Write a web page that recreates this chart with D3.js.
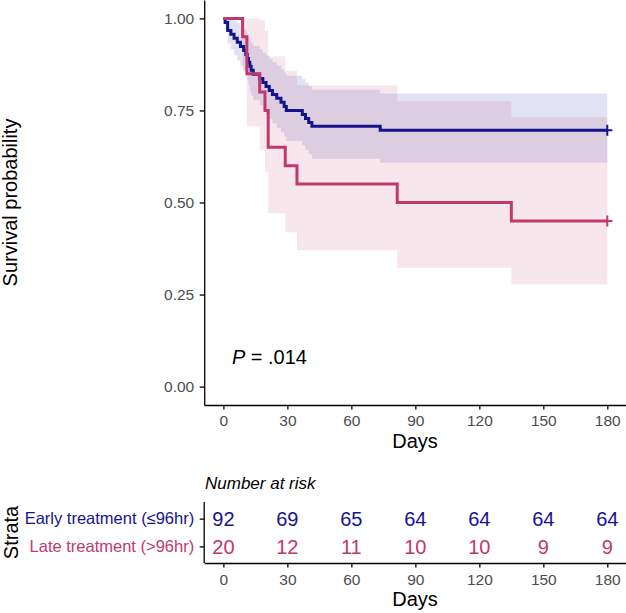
<!DOCTYPE html>
<html>
<head>
<meta charset="utf-8">
<script src="https://cdn.jsdelivr.net/npm/d3@7/dist/d3.min.js"></script>
<style>
  html, body { margin: 0; padding: 0; background: #fff; }
  svg { display: block; font-family: "Liberation Sans", Arial, Helvetica, sans-serif; }
</style>
</head>
<body>
<svg id="chart" width="626" height="613"></svg>
<script>
// ---------------- data ----------------
const strata = ["Early treatment (\u226496hr)", "Late treatment (>96hr)"];
const strataColors = ["#14148c", "#c0396c"];

const earlyTimes = [0, 0.8, 2, 3.5, 5, 6.5, 8, 9.5, 10.5, 11.2, 11.8, 12.4, 13, 14, 17, 18.5, 20, 21.5, 23, 25, 27, 28.5, 29.5, 37, 38.5, 40, 41.5, 73.5, 180];
const earlySurv  = [1, 0.989, 0.967, 0.957, 0.946, 0.935, 0.924, 0.913, 0.902, 0.891, 0.880, 0.870, 0.859, 0.848, 0.837, 0.826, 0.815, 0.804, 0.793, 0.783, 0.772, 0.761, 0.750, 0.739, 0.728, 0.717, 0.707, 0.696, 0.696];
const earlyLower = [1, 0.968, 0.932, 0.916, 0.900, 0.886, 0.871, 0.857, 0.843, 0.830, 0.817, 0.803, 0.790, 0.778, 0.765, 0.752, 0.740, 0.727, 0.715, 0.703, 0.691, 0.679, 0.667, 0.655, 0.643, 0.631, 0.619, 0.608, 0.608];
const earlyUpper = [1, 1, 1, 0.999, 0.993, 0.987, 0.980, 0.972, 0.965, 0.957, 0.949, 0.941, 0.933, 0.925, 0.916, 0.907, 0.899, 0.890, 0.881, 0.872, 0.862, 0.853, 0.844, 0.835, 0.825, 0.816, 0.806, 0.796, 0.796];

const lateTimes = [0, 9, 11, 17, 19.5, 21, 29, 34.5, 81.5, 135, 180];
const lateSurv  = [1, 0.95, 0.85, 0.80, 0.75, 0.65, 0.60, 0.55, 0.50, 0.45, 0.45];
const lateLower = [1, 0.859, 0.707, 0.643, 0.582, 0.471, 0.419, 0.370, 0.323, 0.277, 0.277];
const lateUpper = [1, 1, 1, 0.996, 0.966, 0.897, 0.858, 0.818, 0.775, 0.731, 0.731];

const xTicks = [0, 30, 60, 90, 120, 150, 180];
const yTicks = [0, 0.25, 0.5, 0.75, 1];
const riskTimes = [0, 30, 60, 90, 120, 150, 180];
const earlyRisk = [92, 69, 65, 64, 64, 64, 64];
const lateRisk  = [20, 12, 11, 10, 10, 9, 9];
const pLabel = ["P", " = .014"];

// ---------------- build ----------------
const svg = d3.select("#chart");
const series = [
  {name: strata[0], color: strataColors[0], t: earlyTimes, s: earlySurv, lo: earlyLower, hi: earlyUpper},
  {name: strata[1], color: strataColors[1], t: lateTimes, s: lateSurv, lo: lateLower, hi: lateUpper}
];

const x = d3.scaleLinear().domain([-9, 189]).range([204.2, 626.5]);
const y = d3.scaleLinear().domain([-0.05, 1.05]).range([405, 0]);

const gBands = svg.append("g");
series.forEach(sr => {
  const pts = sr.t.map((t, i) => ({t, lo: sr.lo[i], hi: sr.hi[i]}));
  gBands.append("path")
    .datum(pts)
    .attr("d", d3.area().curve(d3.curveStepAfter).x(d => x(d.t)).y0(d => y(d.lo)).y1(d => y(d.hi)))
    .attr("fill", sr.color)
    .attr("fill-opacity", 0.12);
});

const gLines = svg.append("g");
series.forEach(sr => {
  const pts = sr.t.map((t, i) => ({t, s: sr.s[i]}));
  gLines.append("path")
    .datum(pts)
    .attr("d", d3.line().curve(d3.curveStepAfter).x(d => x(d.t)).y(d => y(d.s)))
    .attr("fill", "none")
    .attr("stroke", sr.color)
    .attr("stroke-width", 3);
  const last = pts[pts.length - 1];
  const cx = x(last.t), cy = y(last.s);
  gLines.append("path")
    .attr("d", `M${cx - 5},${cy}H${cx + 5}M${cx},${cy - 5.5}V${cy + 5.5}`)
    .attr("stroke", sr.color)
    .attr("stroke-width", 2)
    .attr("fill", "none");
});

// axes - survival panel
function styleAxis(g) {
  g.selectAll(".domain").attr("stroke", "#000").attr("stroke-width", 1.3);
  g.selectAll(".tick line").attr("stroke", "#000").attr("stroke-width", 1.3);
  g.selectAll(".tick text").attr("fill", "#4d4d4d").style("font-size", "15.5px")
    .style("font-family", "'Liberation Sans', Arial, sans-serif");
}
const yAx = svg.append("g").attr("transform", "translate(204.2,0)")
  .call(d3.axisLeft(y).tickValues(yTicks).tickFormat(d3.format(".2f")).tickSize(4.5).tickSizeOuter(0).tickPadding(5.5));
styleAxis(yAx);
const xAx = svg.append("g").attr("transform", "translate(0,405)")
  .call(d3.axisBottom(x).tickValues(xTicks).tickFormat(d3.format("d")).tickSize(4.5).tickSizeOuter(0).tickPadding(5.5));
styleAxis(xAx);

svg.append("text").attr("x", 415).attr("y", 448.3).attr("text-anchor", "middle")
  .style("font-size", "20px").attr("fill", "#000").text("Days");
svg.append("text").attr("transform", "translate(16.5,202.5) rotate(-90)").attr("text-anchor", "middle")
  .style("font-size", "20px").attr("fill", "#000").text("Survival probability");

const pt = svg.append("text").attr("x", x(4)).attr("y", 364).style("font-size", "20px").attr("fill", "#000");
pt.append("tspan").style("font-style", "italic").text(pLabel[0]);
pt.append("tspan").text(pLabel[1]);

// ---------------- risk table ----------------
const yT = d3.scalePoint().domain(strata).range([502, 563]).padding(0.6);

svg.append("text").attr("x", 205).attr("y", 488.5).style("font-size", "17px").style("font-style", "italic")
  .attr("fill", "#000").text("Number at risk");

const risks = [earlyRisk, lateRisk];
strata.forEach((s, si) => {
  svg.append("g").selectAll("text").data(riskTimes).join("text")
    .attr("x", d => x(d))
    .attr("y", yT(s) + 7.2)
    .attr("text-anchor", "middle")
    .style("font-size", "20px")
    .attr("fill", strataColors[si])
    .text((d, i) => risks[si][i]);
});

const yTAx = svg.append("g").attr("transform", "translate(204.2,0)")
  .call(d3.axisLeft(yT).tickSize(4.5).tickSizeOuter(0).tickPadding(5.5));
styleAxis(yTAx);
yTAx.select(".domain").attr("d", "M0,502V563");
yTAx.selectAll(".tick text").style("font-size", "16.5px").attr("fill", (d, i) => strataColors[i]);

const xTAx = svg.append("g").attr("transform", "translate(0,563)")
  .call(d3.axisBottom(x).tickValues(riskTimes).tickFormat(d3.format("d")).tickSize(4.5).tickSizeOuter(0).tickPadding(6));
styleAxis(xTAx);

svg.append("text").attr("x", 415).attr("y", 606).attr("text-anchor", "middle")
  .style("font-size", "20px").attr("fill", "#000").text("Days");
svg.append("text").attr("transform", "translate(18,532.5) rotate(-90)").attr("text-anchor", "middle")
  .style("font-size", "20px").attr("fill", "#000").text("Strata");
</script>
</body>
</html>
